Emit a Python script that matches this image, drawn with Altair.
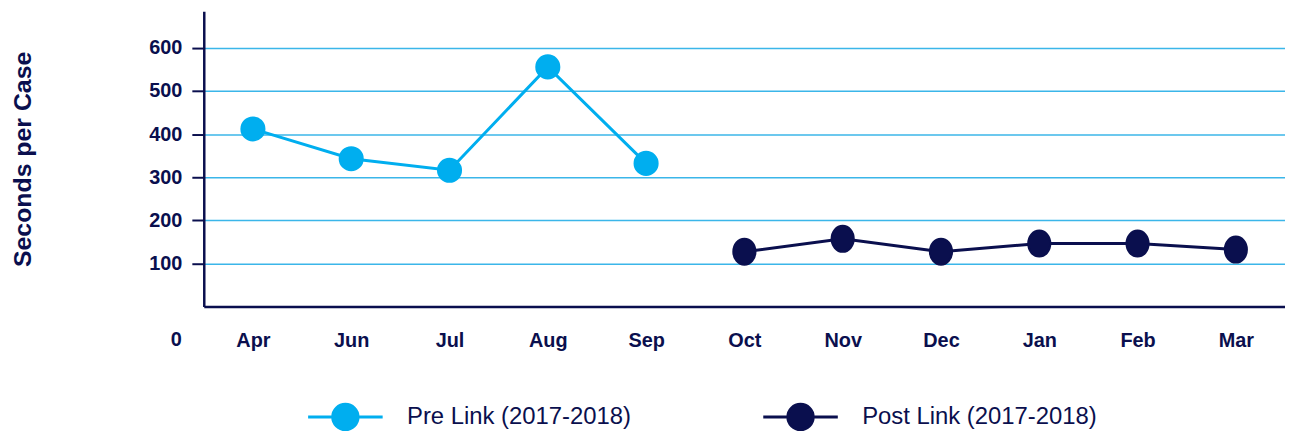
import altair as alt
import pandas as pd

months = ["Apr", "Jun", "Jul", "Aug", "Sep", "Oct", "Nov", "Dec", "Jan", "Feb", "Mar"]
pre_months = ["Apr", "Jun", "Jul", "Aug", "Sep"]
pre_values = [412, 343, 316, 556, 332]
post_months = ["Oct", "Nov", "Dec", "Jan", "Feb", "Mar"]
post_values = [127, 157, 127, 146, 146, 132]
series_names = ["Pre Link (2017-2018)", "Post Link (2017-2018)"]
y_ticks = [100, 200, 300, 400, 500, 600]
zero_label = ["0"]

rows = []
for m, v in zip(pre_months, pre_values):
    rows.append({"month": m, "value": v, "series": series_names[0]})
for m, v in zip(post_months, post_values):
    rows.append({"month": m, "value": v, "series": series_names[1]})
df = pd.DataFrame(rows)

NAVY = "#0A0F4E"
LIGHT = "#00AEEF"
GRID = "#3BB6E9"
FONT = "Liberation Sans"
W, H = 1088, 297

ELLIPSE = "M0,-1.13A0.96,1.13 0 1,1 0,1.13A0.96,1.13 0 1,1 0,-1.13Z"
LEGEND_SYM = ("M-1,0H-0.34M0.34,0H1"
              "M-0.34,0A0.34,0.34 0 1,0 0.34,0A0.34,0.34 0 1,0 -0.34,0Z")

x = alt.X(
    "month:N", sort=months,
    scale=alt.Scale(type="point", padding=0.5, domain=months),
    axis=alt.Axis(title=None, labelFontSize=20, labelFontWeight="bold",
                  labelColor=NAVY, labelFont=FONT, ticks=False, labelPadding=24,
                  domainColor=NAVY, domainWidth=2.5, grid=False, labelAngle=0),
)
y = alt.Y(
    "value:Q",
    scale=alt.Scale(domain=[0, 685], nice=False),
    axis=alt.Axis(values=y_ticks, title="Seconds per Case", titleFontSize=25,
                  titleFontWeight="bold", titleColor=NAVY, titleFont=FONT,
                  titlePadding=114, labelFontSize=20, labelFontWeight="bold",
                  labelColor=NAVY, labelFont=FONT, labelPadding=10,
                  tickColor=NAVY, tickWidth=2, tickSize=12,
                  domainColor=NAVY, domainWidth=2.5,
                  grid=True, gridColor=GRID, gridWidth=1.5),
)
color_scale = alt.Scale(domain=series_names, range=[LIGHT, NAVY])

legend = alt.Legend(
    title=None, orient="none", legendX=103.5, legendY=369, direction="horizontal",
    symbolType=LEGEND_SYM, symbolSize=5625, symbolStrokeWidth=3, symbolOpacity=1,
    labelFontSize=24, labelFont=FONT, labelColor=NAVY, labelOffset=23,
    labelLimit=400, columnPadding=126,
)

lines = alt.Chart(df).mark_line(strokeWidth=3).encode(
    x=x, y=y,
    stroke=alt.Stroke("series:N", scale=color_scale, legend=legend),
)
pre_points = alt.Chart(df).transform_filter(
    alt.datum.series == series_names[0]
).mark_point(filled=True, opacity=1, size=540, shape="circle").encode(
    x=x, y=y,
    fill=alt.Fill("series:N", scale=color_scale, legend=legend),
    stroke=alt.Stroke("series:N", scale=color_scale, legend=legend),
)
post_points = alt.Chart(df).transform_filter(
    alt.datum.series == series_names[1]
).mark_point(filled=True, opacity=1, size=540, shape=ELLIPSE).encode(
    x=x, y=y,
    fill=alt.Fill("series:N", scale=color_scale, legend=legend),
    stroke=alt.Stroke("series:N", scale=color_scale, legend=legend),
)
zero = alt.Chart(pd.DataFrame({"label": zero_label})).mark_text(
    align="right", baseline="top", fontSize=20, fontWeight="bold", font=FONT,
    color=NAVY, dy=24,
).encode(x=alt.value(-22), y=alt.value(H), text="label:N")

chart = alt.layer(lines, pre_points, post_points, zero).properties(
    width=W, height=H, autosize="none",
    padding={"left": 197, "top": 2, "right": 0, "bottom": 125},
    background="white",
).configure_view(stroke=None)

chart.save("out.html", embed_options={"renderer": "svg", "actions": False})
